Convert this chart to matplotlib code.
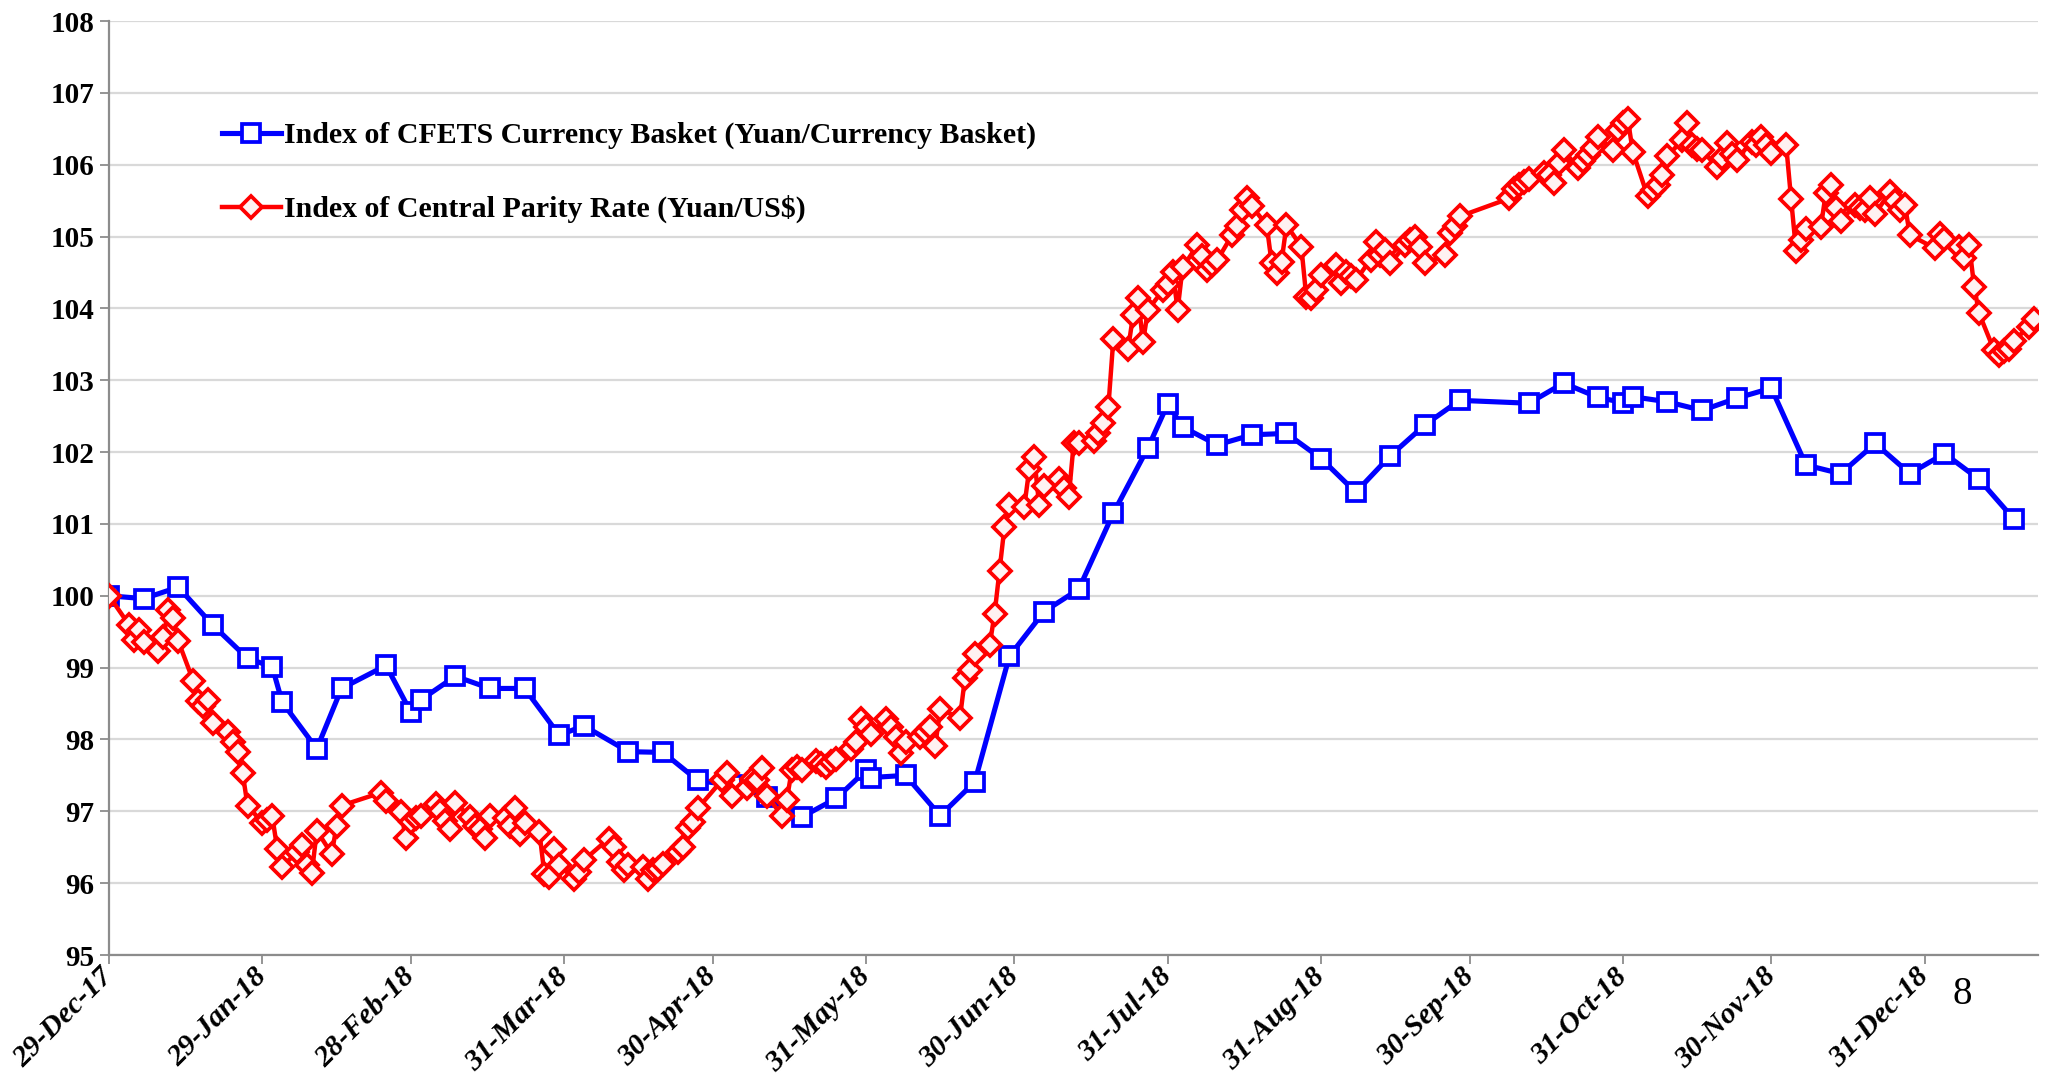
import matplotlib
matplotlib.use("Agg")
import matplotlib.pyplot as plt
import matplotlib.dates as mdates
import pandas as pd

# ---------------- data ----------------
blue_dates = ["2017-12-29", "2018-01-05", "2018-01-12", "2018-01-19", "2018-01-26", "2018-01-31",
              "2018-02-02", "2018-02-09", "2018-02-14", "2018-02-23", "2018-02-28", "2018-03-02",
              "2018-03-09", "2018-03-16", "2018-03-23", "2018-03-30", "2018-04-04", "2018-04-13",
              "2018-04-20", "2018-04-27", "2018-05-04", "2018-05-11", "2018-05-18", "2018-05-25",
              "2018-05-31", "2018-06-01", "2018-06-08", "2018-06-15", "2018-06-22", "2018-06-29",
              "2018-07-06", "2018-07-13", "2018-07-20", "2018-07-27", "2018-07-31", "2018-08-03",
              "2018-08-10", "2018-08-17", "2018-08-24", "2018-08-31", "2018-09-07", "2018-09-14",
              "2018-09-21", "2018-09-28", "2018-10-12", "2018-10-19", "2018-10-26", "2018-10-31",
              "2018-11-02", "2018-11-09", "2018-11-16", "2018-11-23", "2018-11-30", "2018-12-07",
              "2018-12-14", "2018-12-21", "2018-12-28", "2019-01-04", "2019-01-11", "2019-01-18"]
blue_values = [100.00, 99.96, 100.12, 99.59, 99.13, 99.01,
               98.52, 97.87, 98.71, 99.03, 98.38, 98.55,
               98.88, 98.71, 98.71, 98.06, 98.19, 97.83,
               97.82, 97.43, 97.36, 97.20, 96.92, 97.18,
               97.57, 97.47, 97.50, 96.94, 97.41, 99.16,
               99.78, 100.09, 101.15, 102.06, 102.67, 102.35,
               102.10, 102.24, 102.26, 101.91, 101.44, 101.95,
               102.38, 102.72, 102.68, 102.96, 102.76, 102.69,
               102.77, 102.70, 102.58, 102.75, 102.89, 101.82,
               101.70, 102.12, 101.70, 101.98, 101.62, 101.07]

red_dates = [
    "2017-12-29",
    "2018-01-02", "2018-01-03", "2018-01-04", "2018-01-05", "2018-01-08", "2018-01-09", "2018-01-10",
    "2018-01-11", "2018-01-12", "2018-01-15", "2018-01-16", "2018-01-17", "2018-01-18", "2018-01-19",
    "2018-01-22", "2018-01-23", "2018-01-24", "2018-01-25", "2018-01-26", "2018-01-29", "2018-01-30",
    "2018-01-31",
    "2018-02-01", "2018-02-02", "2018-02-05", "2018-02-06", "2018-02-07", "2018-02-08", "2018-02-09",
    "2018-02-12", "2018-02-13", "2018-02-14", "2018-02-22", "2018-02-23", "2018-02-26", "2018-02-27",
    "2018-02-28",
    "2018-03-01", "2018-03-02", "2018-03-05", "2018-03-06", "2018-03-07", "2018-03-08", "2018-03-09",
    "2018-03-12", "2018-03-13", "2018-03-14", "2018-03-15", "2018-03-16", "2018-03-19", "2018-03-20",
    "2018-03-21", "2018-03-22", "2018-03-23", "2018-03-26", "2018-03-27", "2018-03-28", "2018-03-29",
    "2018-03-30",
    "2018-04-02", "2018-04-03", "2018-04-04", "2018-04-09", "2018-04-10", "2018-04-11", "2018-04-12",
    "2018-04-13", "2018-04-16", "2018-04-17", "2018-04-18", "2018-04-19", "2018-04-20", "2018-04-23",
    "2018-04-24", "2018-04-25", "2018-04-26", "2018-04-27",
    "2018-05-02", "2018-05-03", "2018-05-04", "2018-05-07", "2018-05-08", "2018-05-09", "2018-05-10",
    "2018-05-11", "2018-05-14", "2018-05-15", "2018-05-16", "2018-05-17", "2018-05-18", "2018-05-21",
    "2018-05-22", "2018-05-23", "2018-05-24", "2018-05-25", "2018-05-28", "2018-05-29", "2018-05-30",
    "2018-05-31",
    "2018-06-01", "2018-06-04", "2018-06-05", "2018-06-06", "2018-06-07", "2018-06-08", "2018-06-11",
    "2018-06-12", "2018-06-13", "2018-06-14", "2018-06-15", "2018-06-19", "2018-06-20", "2018-06-21",
    "2018-06-22", "2018-06-25", "2018-06-26", "2018-06-27", "2018-06-28", "2018-06-29",
    "2018-07-02", "2018-07-03", "2018-07-04", "2018-07-05", "2018-07-06", "2018-07-09", "2018-07-10",
    "2018-07-11", "2018-07-12", "2018-07-13", "2018-07-16", "2018-07-17", "2018-07-18", "2018-07-19",
    "2018-07-20", "2018-07-23", "2018-07-24", "2018-07-25", "2018-07-26", "2018-07-27", "2018-07-30",
    "2018-07-31",
    "2018-08-01", "2018-08-02", "2018-08-03", "2018-08-06", "2018-08-07", "2018-08-08", "2018-08-09",
    "2018-08-10", "2018-08-13", "2018-08-14", "2018-08-15", "2018-08-16", "2018-08-17", "2018-08-20",
    "2018-08-21", "2018-08-22", "2018-08-23", "2018-08-24", "2018-08-27", "2018-08-28", "2018-08-29",
    "2018-08-30", "2018-08-31",
    "2018-09-03", "2018-09-04", "2018-09-05", "2018-09-06", "2018-09-07", "2018-09-10", "2018-09-11",
    "2018-09-12", "2018-09-13", "2018-09-14", "2018-09-17", "2018-09-18", "2018-09-19", "2018-09-20",
    "2018-09-21", "2018-09-25", "2018-09-26", "2018-09-27", "2018-09-28",
    "2018-10-08", "2018-10-09", "2018-10-10", "2018-10-11", "2018-10-12", "2018-10-15", "2018-10-16",
    "2018-10-17", "2018-10-18", "2018-10-19", "2018-10-22", "2018-10-23", "2018-10-24", "2018-10-25",
    "2018-10-26", "2018-10-29", "2018-10-30", "2018-10-31",
    "2018-11-01", "2018-11-02", "2018-11-05", "2018-11-06", "2018-11-07", "2018-11-08", "2018-11-09",
    "2018-11-12", "2018-11-13", "2018-11-14", "2018-11-15", "2018-11-16", "2018-11-19", "2018-11-20",
    "2018-11-21", "2018-11-22", "2018-11-23", "2018-11-26", "2018-11-27", "2018-11-28", "2018-11-29",
    "2018-11-30",
    "2018-12-03", "2018-12-04", "2018-12-05", "2018-12-06", "2018-12-07", "2018-12-10", "2018-12-11",
    "2018-12-12", "2018-12-13", "2018-12-14", "2018-12-17", "2018-12-18", "2018-12-19", "2018-12-20",
    "2018-12-21", "2018-12-24", "2018-12-25", "2018-12-26", "2018-12-27", "2018-12-28",
    "2019-01-02", "2019-01-03", "2019-01-04", "2019-01-07", "2019-01-08", "2019-01-09", "2019-01-10",
    "2019-01-11", "2019-01-14", "2019-01-15", "2019-01-16", "2019-01-17", "2019-01-18", "2019-01-21",
    "2019-01-22"]
red_values = [
    100.00,
    99.60, 99.38, 99.53, 99.35, 99.23, 99.43, 99.80,
    99.69, 99.37, 98.82, 98.53, 98.47, 98.55, 98.23,
    98.10, 97.97, 97.82, 97.54, 97.08, 96.84, 96.88,
    96.93,
    96.48, 96.23, 96.43, 96.53, 96.25, 96.14, 96.73,
    96.41, 96.79, 97.08, 97.26, 97.15, 96.99, 96.63,
    96.85,
    96.90, 96.93, 97.10, 97.01, 96.87, 96.76, 97.12,
    96.92, 96.80, 96.76, 96.63, 96.94, 96.90, 96.79,
    97.04, 96.69, 96.84, 96.71, 96.13, 96.09, 96.48,
    96.25,
    96.06, 96.16, 96.32, 96.62, 96.51, 96.29, 96.18,
    96.25, 96.23, 96.06, 96.18, 96.20, 96.27, 96.43,
    96.51, 96.77, 96.85, 97.04,
    97.44, 97.53, 97.22, 97.33, 97.45, 97.43, 97.60,
    97.22, 96.94, 97.16, 97.57, 97.62, 97.58, 97.70,
    97.66, 97.62, 97.68, 97.73, 97.87, 97.97, 98.29,
    98.17,
    98.08, 98.29, 98.18, 98.03, 97.81, 97.97, 98.04,
    98.10, 98.18, 97.91, 98.42, 98.30, 98.85, 98.97,
    99.19, 99.31, 99.75, 100.35, 100.96, 101.26,
    101.24, 101.76, 101.93, 101.27, 101.53, 101.62, 101.50,
    101.38, 102.13, 102.13, 102.16, 102.26, 102.40, 102.63,
    103.57, 103.44, 103.91, 104.14, 103.53, 103.98, 104.25,
    104.34,
    104.51, 103.98, 104.57, 104.88, 104.73, 104.54, 104.60,
    104.67, 105.02, 105.14, 105.37, 105.53, 105.42, 105.16,
    104.63, 104.49, 104.65, 105.16, 104.86, 104.16, 104.14,
    104.25, 104.46,
    104.60, 104.35, 104.51, 104.45, 104.39, 104.68, 104.93,
    104.75, 104.81, 104.63, 104.88, 104.95, 105.00, 104.86,
    104.63, 104.74, 105.05, 105.15, 105.28,
    105.53, 105.66, 105.72, 105.76, 105.80, 105.88, 105.85,
    105.75, 106.02, 106.20, 105.95, 106.05, 106.13, 106.23,
    106.39, 106.20, 106.48, 106.58,
    106.63, 106.18, 105.56, 105.65, 105.72, 105.86, 106.12,
    106.34, 106.58, 106.28, 106.22, 106.20, 105.97, 106.09,
    106.30, 106.15, 106.07, 106.32, 106.28, 106.39, 106.28,
    106.16,
    106.27, 105.52, 104.80, 104.95, 105.10, 105.13, 105.60,
    105.72, 105.40, 105.22, 105.44, 105.40, 105.37, 105.53,
    105.32, 105.62, 105.50, 105.37, 105.44, 105.02,
    104.84, 105.04, 104.97, 104.86, 104.70, 104.88, 104.30,
    103.93, 103.42, 103.35, 103.40, 103.44, 103.55, 103.74,
    103.85]

blue_label = "Index of CFETS Currency Basket (Yuan/Currency Basket)"
red_label = "Index of Central Parity Rate (Yuan/US$)"

tick_dates = ["2017-12-29", "2018-01-29", "2018-02-28", "2018-03-31", "2018-04-30", "2018-05-31",
              "2018-06-30", "2018-07-31", "2018-08-31", "2018-09-30", "2018-10-31", "2018-11-30",
              "2018-12-31"]
tick_labels = ["29-Dec-17", "29-Jan-18", "28-Feb-18", "31-Mar-18", "30-Apr-18", "31-May-18",
               "30-Jun-18", "31-Jul-18", "31-Aug-18", "30-Sep-18", "31-Oct-18", "30-Nov-18",
               "31-Dec-18"]
y_ticks = list(range(95, 109))
page_number = "8"

# ---------------- figure ----------------
W, H = 2053, 1074
fig = plt.figure(figsize=(W / 100, H / 100), dpi=100)
ax_left, ax_right, ax_top, ax_bottom = 109, 2038, 21, 955
ax = fig.add_axes([ax_left / W, 1 - ax_bottom / H, (ax_right - ax_left) / W, (ax_bottom - ax_top) / H])

serif = ["Liberation Serif", "DejaVu Serif"]

bx = mdates.date2num(pd.to_datetime(blue_dates))
rx = mdates.date2num(pd.to_datetime(red_dates))

ax.plot(bx, blue_values, color="#0000ff", lw=3.7, marker="s", ms=12.5, mfc="white",
        mec="#0000ff", mew=2.7, zorder=3, label=blue_label, solid_joinstyle="miter")
ax.plot(rx, red_values, color="#ff0000", lw=3.2, marker="D", ms=11.5, mfc="#fff2f2",
        mec="#ff0000", mew=2.7, zorder=4, label=red_label)

x0 = mdates.date2num(pd.Timestamp("2017-12-29"))
ax.set_xlim(x0, x0 + 389.9)
ax.set_ylim(95, 108)

ax.set_yticks(y_ticks)
ax.set_yticklabels([str(v) for v in y_ticks], fontsize=21, fontweight="bold", family=serif)
ax.yaxis.grid(True, color="#d9d9d9", lw=1.6)
ax.set_axisbelow(True)

tx = mdates.date2num(pd.to_datetime(tick_dates))
ax.set_xticks(tx)
ax.set_xticklabels(tick_labels, rotation=45, ha="right", va="center", rotation_mode="anchor",
                   fontsize=21.5, fontweight="bold", fontstyle="italic", family=serif)

for s in ["top", "right"]:
    ax.spines[s].set_visible(False)
for s in ["left", "bottom"]:
    ax.spines[s].set_color("#8c8c8c")
    ax.spines[s].set_linewidth(1.6)
ax.tick_params(axis="y", direction="out", length=6.5, width=1.3, color="#8c8c8c", pad=4)
ax.tick_params(axis="x", direction="out", length=6.5, width=1.3, color="#8c8c8c", pad=6)

leg = ax.legend(loc="upper left", bbox_to_anchor=(222 / W, 1 - 122 / H), bbox_transform=fig.transFigure,
                frameon=False, handlelength=1.97, handletextpad=0.12, labelspacing=1.53, borderpad=0,
                borderaxespad=0, prop={"family": serif, "weight": "bold", "size": 21.5})

fig.text(1962 / W, 1 - 995 / H, page_number, ha="center", va="center", fontsize=28, family=serif)

fig.savefig("out.png", dpi=100)
